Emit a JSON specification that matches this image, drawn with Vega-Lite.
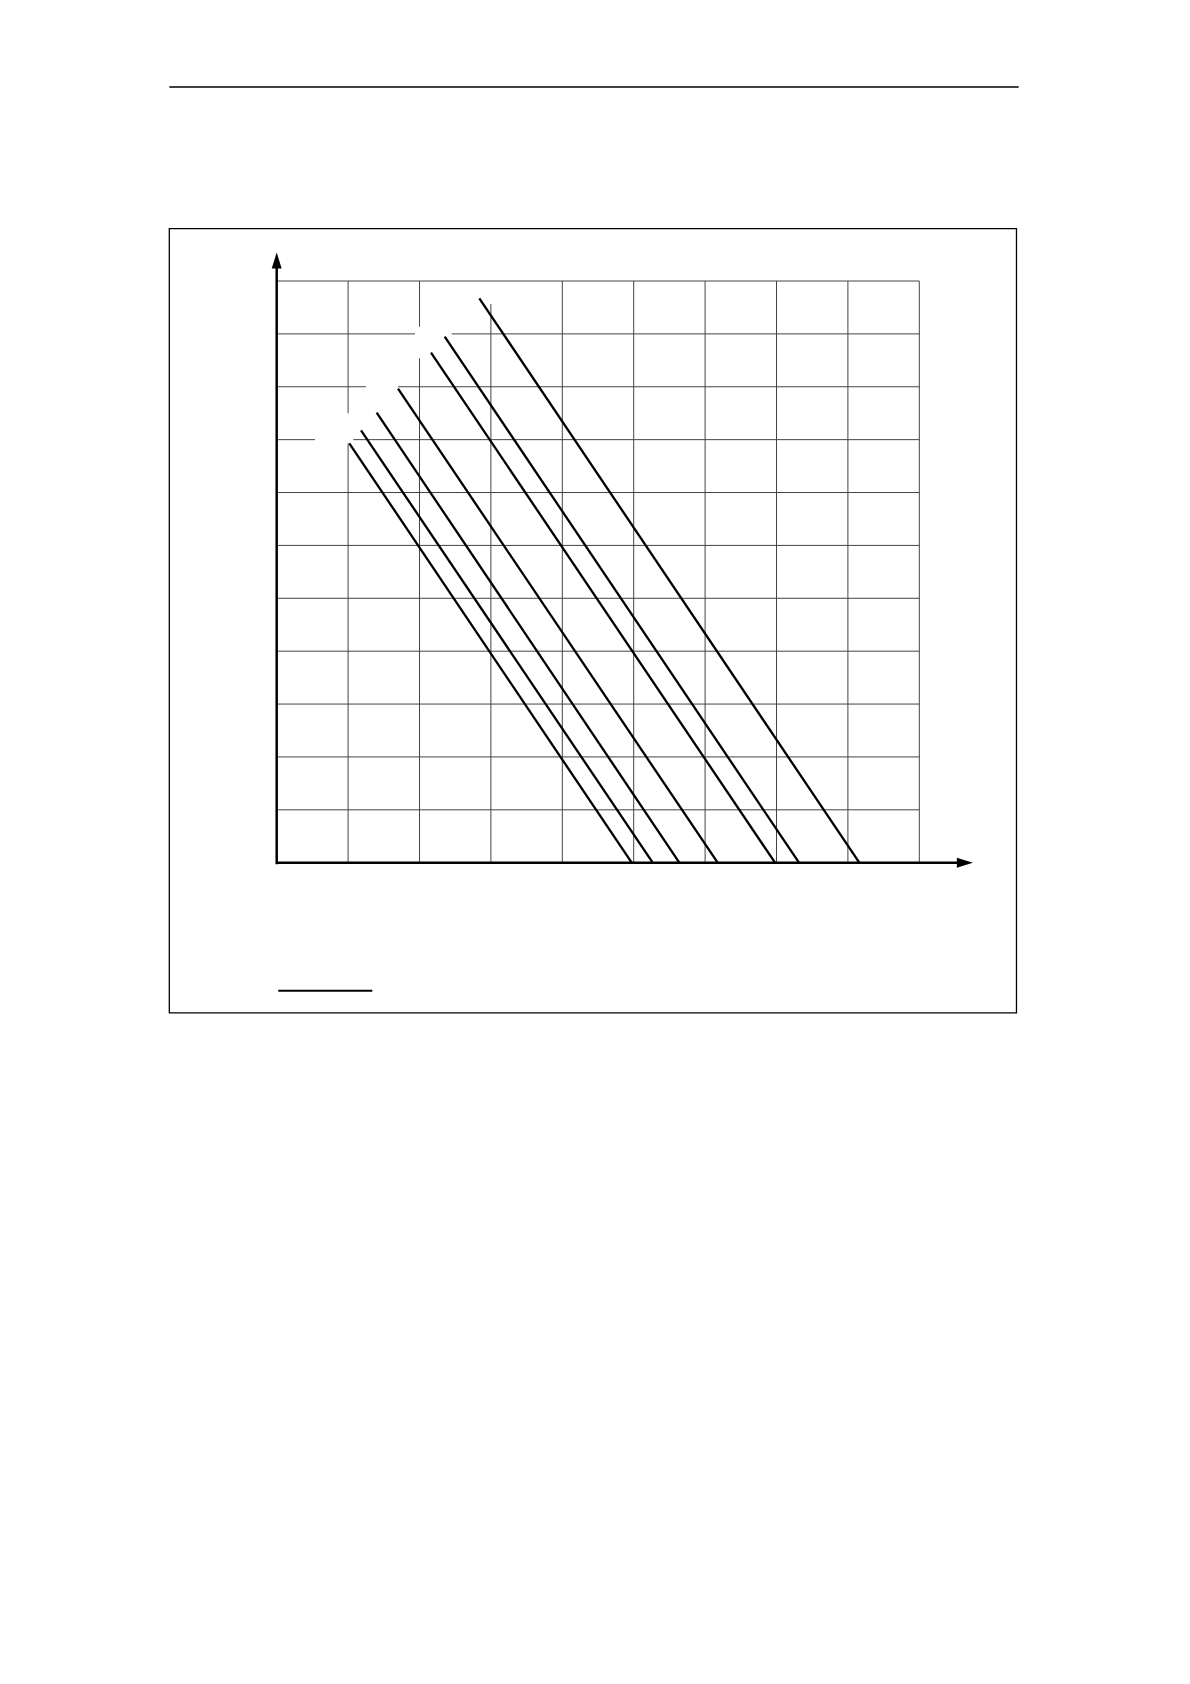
{
  "$schema": "https://vega.github.io/schema/vega-lite/v6.json",
  "width": 642.6,
  "height": 581.7,
  "autosize": "none",
  "padding": {"left": 276.7, "top": 281, "right": 270.7, "bottom": 821.3},
  "background": "white",
  "config": {"view": {"stroke": null}},
  "datasets": {
    "curves": [
      {"curve": "A", "x": 2.838, "y": 10.673}, {"curve": "A", "x": 8.160, "y": 0},
      {"curve": "B", "x": 2.353, "y": 9.947}, {"curve": "B", "x": 7.315, "y": 0},
      {"curve": "C", "x": 2.161, "y": 9.645}, {"curve": "C", "x": 6.979, "y": 0},
      {"curve": "D", "x": 1.699, "y": 8.964}, {"curve": "D", "x": 6.176, "y": 0},
      {"curve": "E", "x": 1.400, "y": 8.510}, {"curve": "E", "x": 5.639, "y": 0},
      {"curve": "F", "x": 1.181, "y": 8.177}, {"curve": "F", "x": 5.266, "y": 0},
      {"curve": "G", "x": 1.017, "y": 7.931}, {"curve": "G", "x": 4.972, "y": 0}
    ],
    "grid": [
      {"x": 1, "x2": 1, "y": 0, "y2": 7.93}, {"x": 1, "x2": 1, "y": 8.5, "y2": 11},
      {"x": 2, "x2": 2, "y": 0, "y2": 9.539}, {"x": 2, "x2": 2, "y": 10.136, "y2": 11},
      {"x": 3, "x2": 3, "y": 0, "y2": 10.565},
      {"x": 4, "x2": 4, "y": 0, "y2": 11},
      {"x": 5, "x2": 5, "y": 0, "y2": 11},
      {"x": 6, "x2": 6, "y": 0, "y2": 11},
      {"x": 7, "x2": 7, "y": 0, "y2": 11},
      {"x": 8, "x2": 8, "y": 0, "y2": 11},
      {"x": 9, "x2": 9, "y": 0, "y2": 11},
      {"x": 0, "x2": 9, "y": 1, "y2": 1},
      {"x": 0, "x2": 9, "y": 2, "y2": 2},
      {"x": 0, "x2": 9, "y": 3, "y2": 3},
      {"x": 0, "x2": 9, "y": 4, "y2": 4},
      {"x": 0, "x2": 9, "y": 5, "y2": 5},
      {"x": 0, "x2": 9, "y": 6, "y2": 6},
      {"x": 0, "x2": 9, "y": 7, "y2": 7},
      {"x": 0, "x2": 0.536, "y": 8, "y2": 8}, {"x": 1.073, "x2": 9, "y": 8, "y2": 8},
      {"x": 0, "x2": 1.25, "y": 9, "y2": 9}, {"x": 1.70, "x2": 9, "y": 9, "y2": 9},
      {"x": 0, "x2": 1.937, "y": 10, "y2": 10}, {"x": 2.451, "x2": 9, "y": 10, "y2": 10},
      {"x": 0, "x2": 9, "y": 11, "y2": 11}
    ],
    "frame": [
      {"x": -1.504, "x2": 10.361, "y": 11.989, "y2": -2.838}
    ],
    "rules": [
      {"kind": "header", "x": -1.504, "x2": 10.392, "y": 14.669, "y2": 14.669},
      {"kind": "underline", "x": 0.022, "x2": 1.339, "y": -2.421, "y2": -2.421},
      {"kind": "axis", "x": 0, "x2": 9.64, "y": 0, "y2": 0},
      {"kind": "axis", "x": 0, "x2": 0, "y": -0.03, "y2": 11.39}
    ],
    "arrows": [
      {"dir": "right", "x": 9.638, "y": 0},
      {"dir": "up", "x": 0, "y": 11.388}
    ]
  },
  "layer": [
    {
      "data": {"name": "frame"},
      "mark": {"type": "rect", "fill": null, "stroke": "black", "strokeWidth": 1.3, "clip": false},
      "encoding": {
        "x": {"field": "x", "type": "quantitative", "scale": {"domain": [0, 9], "nice": false, "zero": false}, "axis": null},
        "x2": {"field": "x2"},
        "y": {"field": "y", "type": "quantitative", "scale": {"domain": [0, 11], "nice": false, "zero": false}, "axis": null},
        "y2": {"field": "y2"}
      }
    },
    {
      "data": {"name": "grid"},
      "mark": {"type": "rule", "color": "#444444", "strokeWidth": 1, "clip": false},
      "encoding": {
        "x": {"field": "x", "type": "quantitative"},
        "x2": {"field": "x2"},
        "y": {"field": "y", "type": "quantitative"},
        "y2": {"field": "y2"}
      }
    },
    {
      "data": {"name": "curves"},
      "mark": {"type": "line", "color": "black", "strokeWidth": 2.3, "clip": false},
      "encoding": {
        "x": {"field": "x", "type": "quantitative"},
        "y": {"field": "y", "type": "quantitative"},
        "detail": {"field": "curve"}
      }
    },
    {
      "data": {"name": "rules"},
      "mark": {"type": "rule", "color": "black", "clip": false},
      "encoding": {
        "x": {"field": "x", "type": "quantitative"},
        "x2": {"field": "x2"},
        "y": {"field": "y", "type": "quantitative"},
        "y2": {"field": "y2"},
        "strokeWidth": {"field": "kind", "type": "nominal", "scale": {"domain": ["header", "underline", "axis"], "range": [1.3, 2.5, 2.6]}, "legend": null}
      }
    },
    {
      "data": {"name": "arrows"},
      "mark": {"type": "point", "filled": true, "color": "black", "opacity": 1, "size": 256, "clip": false},
      "encoding": {
        "x": {"field": "x", "type": "quantitative"},
        "y": {"field": "y", "type": "quantitative"},
        "shape": {"field": "dir", "type": "nominal", "scale": {"domain": ["right", "up"], "range": ["M-1,-0.62L1,0L-1,0.62Z", "M-0.62,1L0,-1L0.62,1Z"]}, "legend": null}
      }
    }
  ]
}
